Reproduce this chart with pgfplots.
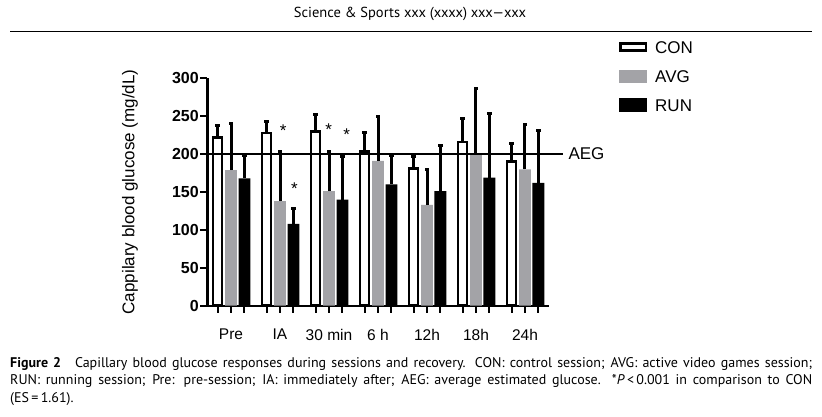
\documentclass[border=0pt]{standalone}
\usepackage{pgfplots}
\pgfplotsset{compat=1.18}
\usepackage{fontspec}
\setmainfont{Liberation Sans}
\newfontfamily\capfont{PT Sans}
\definecolor{avggray}{RGB}{163,163,167}
\pgfplotsset{
  error bars/draw error bar/.code 2 args={%
    \draw[black, line width=3pt, solid] #1 -- #2 node[pos=1, sloped, allow upside down, inner sep=0pt,
      fill=black, draw=none, minimum width=3pt, minimum height=4.5pt] {};%
  },
  myerr/.style={error bars/y dir=plus, error bars/y explicit},
}
\begin{document}
\begin{tikzpicture}[x=1pt,y=1pt]
\useasboundingbox (0pt,0pt) rectangle (822pt,416pt);
\node[font=\capfont\fontsize{14.5}{16}\selectfont, anchor=center] at (410pt,402pt) {Science \& Sports xxx (xxxx) xxx—xxx};
\draw[line width=1.2pt] (10pt,384.5pt) -- (812pt,384.5pt);
\node[anchor=north west, inner sep=0pt, text width=802pt, align=justify,
      font=\capfont\fontsize{14}{17.5}\selectfont] at (10pt,59pt)
{\textbf{Figure 2}\quad Capillary blood glucose responses during sessions and recovery. CON: control session; AVG: active video games session;\linebreak
RUN: running session; Pre: pre-session; IA: immediately after; AEG: average estimated glucose. *\textit{P}\,<\,0.001 in comparison to CON\linebreak
(ES\,=\,1.61).};
\begin{axis}[
  at={(207.3pt,110.3pt)}, anchor=south west,
  scale only axis, width=341.7pt, height=227.4pt,
  xmin=-0.484, xmax=6.49, ymin=0, ymax=300,
  clip=false,
  axis lines=left,
  axis line style={-, line width=2.4pt},
  tick align=outside,
  major tick length=7pt,
  tick style={line width=2pt, black},
  xtick={0,1,2,3,4,5,6},
  xticklabels={Pre,IA,30 min,6 h,12h,18h,24h},
  extra x ticks={-0.273,0.273,0.727,1.273,1.727,2.273,2.727,3.273,3.727,4.273,4.727,5.273,5.727,6.273},
  extra x tick labels={},
  ytick={0,50,100,150,200,250,300},
  /pgf/number format/assume math mode=true,
  yticklabel style={font=\fontsize{16}{16}\selectfont\bfseries, xshift=2pt},
  xticklabel style={font=\fontsize{15.5}{16}\selectfont, yshift=-13pt},
  ylabel={Cappilary blood glucose (mg/dL)},
  ylabel style={font=\fontsize{17}{17}\selectfont, at={(axis description cs:-0.226,0.5)}, anchor=center},
  legend style={at={(axis description cs:1.2049,1.161)}, anchor=north west,
    draw=none, fill=none, inner sep=0pt, row sep=14.3pt,
    font=\fontsize{17}{17}\selectfont,
    nodes={inner sep=0pt, anchor=base west},
    /tikz/every odd column/.append style={column sep=8pt}},
]
% CON bars, at each time point minus 0.273
\addplot[ybar, bar width=0.184, bar shift=0, fill=white, draw=black, line width=2.7pt, myerr,
  legend image code/.code={\draw[fill=white, draw=black, line width=2.7pt] (1.35pt,3.35pt) rectangle (26.65pt,10.65pt);}]
  coordinates {(-0.273,222) +- (0,16) (0.727,228) +- (0,15) (1.727,230) +- (0,22) (2.727,203) +- (0,26) (3.727,181) +- (0,16) (4.727,216) +- (0,31) (5.727,190) +- (0,24)};
\addlegendentry{CON}
% AVG bars, at each time point
\addplot[ybar, bar width=0.24, bar shift=0, fill=avggray, draw=none, myerr,
  legend image code/.code={\fill[avggray] (0pt,-0.4pt) rectangle (28pt,12.6pt);}]
  coordinates {(0,179) +- (0,62) (1,138) +- (0,65) (2,151) +- (0,53) (3,191) +- (0,59) (4,133) +- (0,47) (5,200) +- (0,87) (6,180) +- (0,59)};
\addlegendentry{AVG}
% RUN bars, at each time point plus 0.273
\addplot[ybar, bar width=0.24, bar shift=0, fill=black, draw=none, myerr,
  legend image code/.code={\fill[black] (0pt,-0.9pt) rectangle (28pt,13.1pt);}]
  coordinates {(0.273,168) +- (0,30) (1.273,108) +- (0,20) (2.273,140) +- (0,57) (3.273,160) +- (0,38) (4.273,151) +- (0,60) (5.273,169) +- (0,84) (6.273,162) +- (0,69)};
\addlegendentry{RUN}
\addplot[forget plot, line width=1.3pt, black] coordinates {(-0.484,200) (6.776,200)}
  node[pos=1, anchor=west, font=\fontsize{17}{17}\selectfont, xshift=1.5pt] {AEG};
\addplot[forget plot, only marks, mark=text, text mark={*}, text mark as node=true,
  text mark style={font=\fontsize{17}{17}\selectfont, anchor=center, yshift=-3.5pt, inner sep=0pt}]
  coordinates {(1.067,235) (1.292,159) (1.994,237) (2.361,230)};
\end{axis}
\end{tikzpicture}
\end{document}
